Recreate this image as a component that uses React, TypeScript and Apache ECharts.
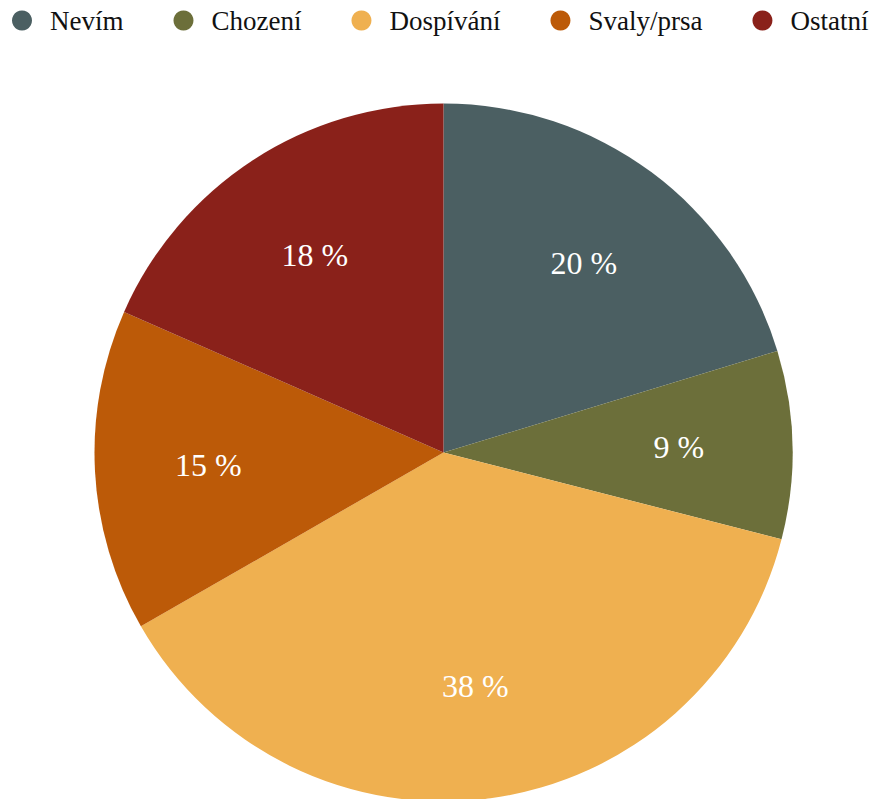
import React, { useEffect, useRef } from "react";
import * as echarts from "echarts";

const categories = ["Nevím", "Chození", "Dospívání", "Svaly/prsa", "Ostatní"];
const values = [20.3, 8.7, 37.7, 14.9, 18.4];
const colors = ["#4B5F62", "#6C6F3A", "#EFB050", "#BC5A08", "#8A211A"];

const FONT = "Liberation Serif";

export default function App() {
  const ref = useRef<HTMLDivElement>(null);
  useEffect(() => {
    if (!ref.current) return;
    const chart = echarts.init(ref.current, null, { renderer: "svg" });
    const data = categories.map((name, i) => ({
      name,
      value: values[i],
      itemStyle: { color: colors[i] },
    }));
    chart.setOption({
      animation: false,
      legend: {
        top: 2,
        left: 7,
        icon: "circle",
        itemWidth: 46,
        itemHeight: 20,
        itemGap: 50,
        selectedMode: false,
        textStyle: { fontFamily: FONT, fontSize: 27, color: "#111" },
        data: categories,
      },
      series: [
        {
          type: "pie",
          center: [443.5, 452.5],
          radius: [0, 349],
          startAngle: 90,
          clockwise: true,
          silent: true,
          label: { show: false },
          labelLine: { show: false },
          data,
        },
        {
          type: "pie",
          center: [443.5, 452.5],
          radius: [116, 349],
          startAngle: 90,
          clockwise: true,
          silent: true,
          legendHoverLink: false,
          itemStyle: { color: "rgba(0,0,0,0)" },
          label: {
            show: true,
            position: "inside",
            formatter: (p: any) => `${Math.round(p.value)} %`,
            color: "#fff",
            fontFamily: FONT,
            fontSize: 32,
          },
          labelLine: { show: false },
          data: categories.map((name, i) => ({
            name: name + " ",
            value: values[i],
            itemStyle: { color: "rgba(0,0,0,0)" },
          })),
        },
      ],
    });
    return () => chart.dispose();
  }, []);
  return (
    <div
      ref={ref}
      style={{ position: "absolute", left: 0, top: 0, width: 877, height: 799, background: "#fff" }}
    />
  );
}
